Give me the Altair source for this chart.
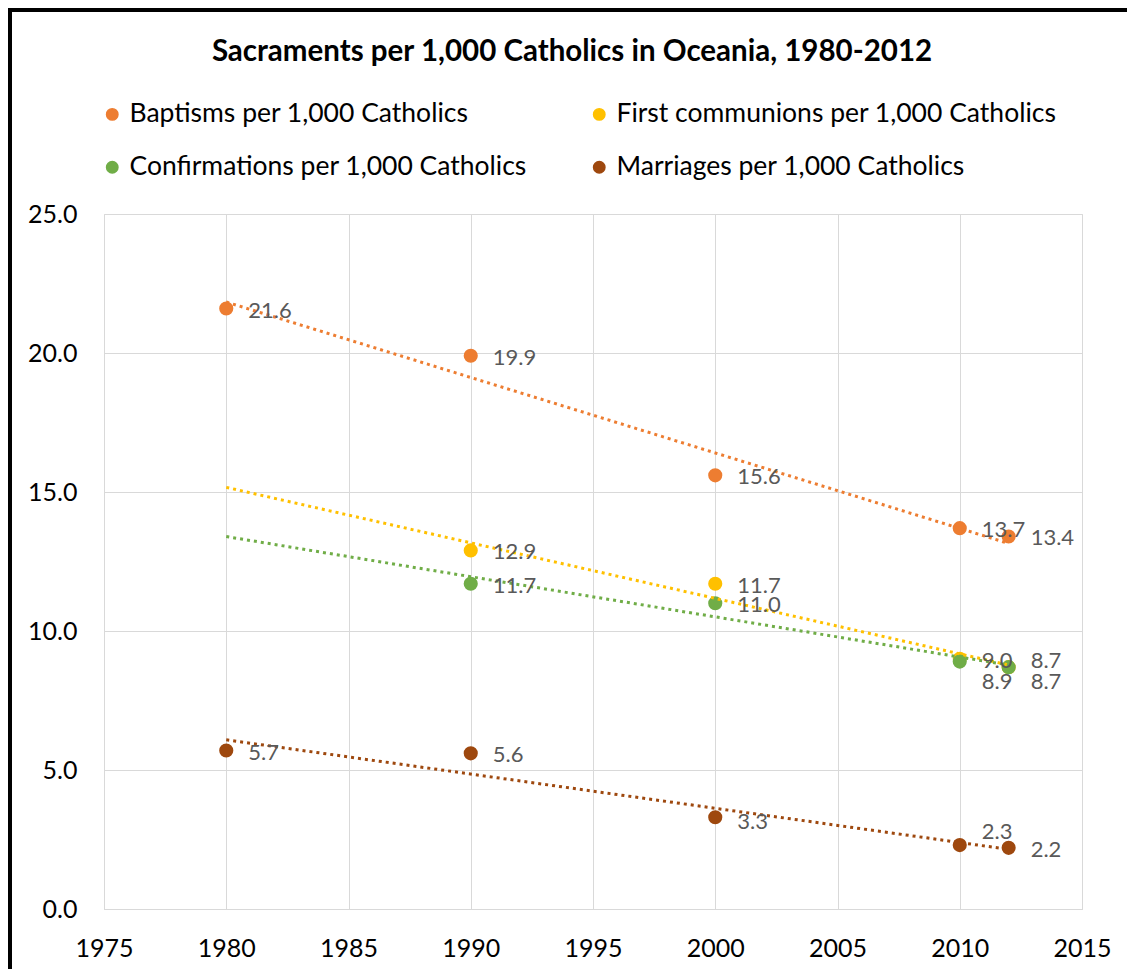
import altair as alt
import pandas as pd

years = [1980, 1990, 2000, 2010, 2012]
# legend (column-major) order
series_names = [
    "Baptisms per 1,000 Catholics",
    "Confirmations per 1,000 Catholics",
    "First communions per 1,000 Catholics",
    "Marriages per 1,000 Catholics",
]
colors = ["#ED7D31", "#70AD47", "#FFC000", "#9E480E"]
baptisms = [21.6, 19.9, 15.6, 13.7, 13.4]
first_communions = [None, 12.9, 11.7, 9.0, 8.7]
confirmations = [None, 11.7, 11.0, 8.9, 8.7]
marriages = [5.7, 5.6, 3.3, 2.3, 2.2]
x_ticks = [1975, 1980, 1985, 1990, 1995, 2000, 2005, 2010, 2015]
y_ticks = [0, 5, 10, 15, 20, 25]

# drawing order: baptisms, first communions, confirmations, marriages
draw_order = [
    ("Baptisms per 1,000 Catholics", baptisms),
    ("First communions per 1,000 Catholics", first_communions),
    ("Confirmations per 1,000 Catholics", confirmations),
    ("Marriages per 1,000 Catholics", marriages),
]
rows = []
for name, vals in draw_order:
    for yr, v in zip(years, vals):
        if v is not None:
            rows.append({"series": name, "year": yr, "value": v})
df = pd.DataFrame(rows)

FONT = "Lato"

color = alt.Color(
    "series:N",
    scale=alt.Scale(domain=series_names, range=colors),
    sort=series_names,
    legend=alt.Legend(
        title=None,
        orient="none",
        legendX=-5,
        legendY=-113,
        columns=2,
        columnPadding=59,
        rowPadding=26,
        symbolType="circle",
        symbolSize=130,
        labelFont=FONT,
        labelFontSize=26.5,
        labelColor="#000000",
        labelOffset=4,
        labelLimit=700,
    ),
)

x = alt.X(
    "year:Q",
    scale=alt.Scale(domain=[1975, 2015], nice=False, zero=False),
    axis=alt.Axis(
        title=None,
        values=x_ticks,
        format="d",
        labelFont=FONT,
        labelFontSize=25,
        labelColor="#000000",
        labelPadding=27,
        ticks=False,
        grid=True,
        gridColor="#D9D9D9",
        domainColor="#D9D9D9",
        labelFlush=False,
    ),
)
y = alt.Y(
    "value:Q",
    scale=alt.Scale(domain=[0, 25], nice=False),
    axis=alt.Axis(
        title=None,
        values=y_ticks,
        format=".1f",
        labelFont=FONT,
        labelFontSize=25,
        labelColor="#000000",
        labelPadding=27,
        ticks=False,
        grid=True,
        gridColor="#D9D9D9",
        domain=False,
    ),
)

base = alt.Chart(df)

points = base.mark_circle(size=200, opacity=1).encode(x=x, y=y, color=color)

trend = (
    base.transform_regression("year", "value", groupby=["series"], extent=[1980, 2012])
    .mark_line(strokeWidth=3, strokeDash=[3, 4])
    .encode(x=alt.X("year:Q"), y=alt.Y("value:Q"), color=color)
)

# label nudges (series, year) -> vertical offset in px
special = {
    ("Confirmations per 1,000 Catholics", 2010): 20,
    ("Confirmations per 1,000 Catholics", 2012): 15,
    ("First communions per 1,000 Catholics", 2012): -6,
    ("Marriages per 1,000 Catholics", 2010): -13,
    ("Marriages per 1,000 Catholics", 2000): 5,
}


def label_layer(flt, dy):
    return (
        base.transform_filter(flt)
        .mark_text(align="left", baseline="middle", dx=22, dy=dy, font=FONT, fontSize=22, color="#595959")
        .encode(x=alt.X("year:Q"), y=alt.Y("value:Q"), text=alt.Text("value:Q", format=".1f"))
    )


not_special = " && ".join(
    f"!(datum.series == '{s}' && datum.year == {yr})" for (s, yr) in special
)
labels = [label_layer(not_special, 2)]
for (s, yr), dy in special.items():
    labels.append(label_layer(f"datum.series == '{s}' && datum.year == {yr}", dy))

frame_top = alt.Chart(df).mark_rule(color="black", strokeWidth=5).encode(
    x=alt.value(-110), x2=alt.value(1100), y=alt.value(-205)
)
frame_left = alt.Chart(df).mark_rule(color="black", strokeWidth=5).encode(
    x=alt.value(-94.5), y=alt.value(-220), y2=alt.value(800)
)

chart = (
    alt.layer(points, trend, *labels, frame_top, frame_left)
    .properties(
        width=978,
        height=695,
        autosize=alt.AutoSizeParams(type="none"),
        padding={"left": 96, "top": 206, "right": 45, "bottom": 60},
        title=alt.TitleParams(
            "Sacraments per 1,000 Catholics in Oceania, 1980-2012",
            font=FONT,
            fontSize=29.5,
            fontWeight="bold",
            color="#000000",
            anchor="middle",
            frame="group",
            dx=-21,
            dy=80,
        ),
    )
    .configure_view(stroke=None)
    .configure(background="white")
)

chart.save("out.html", embed_options={"renderer": "svg", "actions": False})
